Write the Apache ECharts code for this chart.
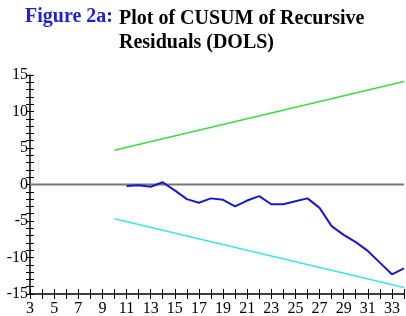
<!DOCTYPE html>
<html><head><meta charset="utf-8">
<script src="https://cdn.jsdelivr.net/npm/echarts@6/dist/echarts.min.js"></script>
<style>html,body{margin:0;padding:0;background:#fff}#c{width:406px;height:316px}</style>
</head><body><div id="c"></div>
<script>
var cusumX = [11,12,13,14,15,16,17,18,19,20,21,22,23,24,25,26,27,28,29,30,31,32,33,34];
var cusumY = [-0.2,-0.1,-0.3,0.3,-0.8,-2.0,-2.5,-1.9,-2.1,-3.0,-2.2,-1.6,-2.7,-2.7,-2.3,-1.9,-3.2,-5.7,-6.9,-7.9,-9.1,-10.7,-12.3,-11.5];
var boundX = [10, 34];
var upperBound = [4.7, 14.1];
var lowerBound = [-4.7, -14.1];
var zeroX = [3, 34];
var zeroY = [0, 0];

function pairs(xs, ys){ return xs.map(function(x,i){ return [x, ys[i]]; }); }

var font = 'Liberation Serif';
var chart = echarts.init(document.getElementById('c'));
var gridPos = {left: 30, right: 2, top: 75, bottom: 22, outerBoundsMode: 'none', containLabel: false};
var baseY = {type:'value', min:-15, max:15, interval:1, splitLine:{show:false}};
var baseX = {type:'value', min:3, max:34, interval:1, splitLine:{show:false}};
chart.setOption({
  animation: false,
  title: [
    {text:'Figure 2a:', left:25, top:7, padding:0, textStyle:{fontFamily:font, fontWeight:'bold', fontSize:20, color:'#1f1fd6'}},
    {text:'Plot of CUSUM of Recursive\nResiduals (DOLS)', left:119, top:7, padding:0, textStyle:{fontFamily:font, fontWeight:'bold', fontSize:20, color:'#000', lineHeight:24}}
  ],
  grid: gridPos,
  xAxis: [
    Object.assign({}, baseX, {position:'bottom',
      axisLine:{onZero:false, lineStyle:{color:'#000', width:1.5}},
      axisTick:{inside:false, length:5, lineStyle:{color:'#000', width:1}},
      axisLabel:{fontFamily:font, fontSize:16, color:'#000', margin:7,
        formatter:function(v){ return (v % 2 === 1) ? String(v) : ''; }}}),
    Object.assign({}, baseX, {position:'bottom',
      axisLine:{show:false, onZero:false},
      axisTick:{inside:true, length:5, lineStyle:{color:'#000', width:1}},
      axisLabel:{show:false}})
  ],
  yAxis: [
    Object.assign({}, baseY, {position:'left',
      axisLine:{show:true, onZero:false, lineStyle:{color:'#000', width:1.5}},
      axisTick:{show:true, inside:false, length:4, lineStyle:{color:'#000', width:1}},
      axisLabel:{fontFamily:font, fontSize:16, color:'#000', margin:2,
        formatter:function(v){ return (v % 5 === 0) ? String(v) : ''; }}}),
    Object.assign({}, baseY, {position:'left',
      axisLine:{show:false, onZero:false},
      axisTick:{show:true, inside:true, length:4, lineStyle:{color:'#000', width:1}},
      axisLabel:{show:false}})
  ],
  series: [
    {type:'line', data:pairs(zeroX, zeroY), symbol:'none', lineStyle:{color:'#777', width:2}, z:1},
    {type:'line', data:pairs(boundX, upperBound), symbol:'none', lineStyle:{color:'#3ddc3d', width:1.5}},
    {type:'line', data:pairs(boundX, lowerBound), symbol:'none', lineStyle:{color:'#3de6e6', width:1.5}},
    {type:'line', data:pairs(cusumX, cusumY), symbol:'none', lineStyle:{color:'#1a1ac8', width:2}}
  ]
});
</script></body></html>
